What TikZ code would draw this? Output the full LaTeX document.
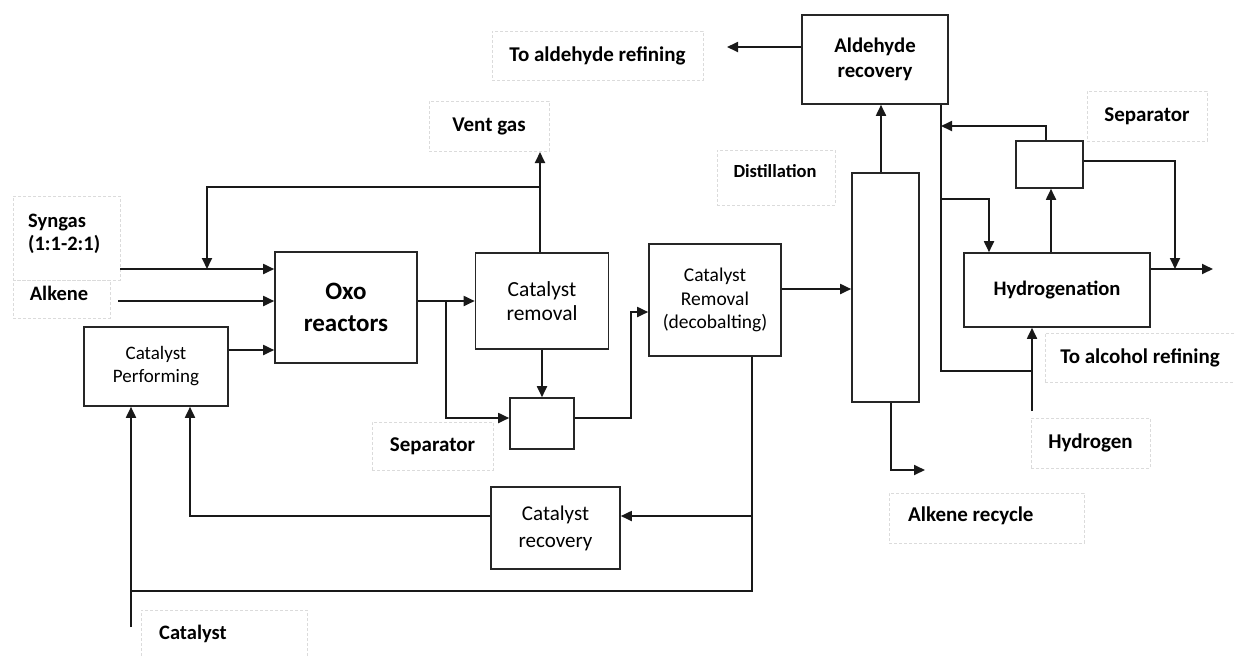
\documentclass[tikz,border=0pt]{standalone}
\usepackage{fontspec}
\setmainfont{Carlito}
\usetikzlibrary{arrows.meta}
\begin{document}
\begin{tikzpicture}[x=1pt,y=-1pt,
  box/.style={draw=black!85,line width=1.6pt,inner sep=0pt,align=center,font=\fontsize{20}{24}\selectfont},
  lbl/.style={draw=black!14,dash pattern=on 3pt off 2pt,line width=0.9pt,inner sep=0pt,align=center,font=\bfseries\fontsize{21}{24}\selectfont},
  txt/.style={inner sep=0pt,font=\bfseries\fontsize{20.5}{23}\selectfont},
  ln/.style={line width=1.8pt,draw=black!90},
  arr/.style={ln,-{Triangle[length=11pt,width=10pt]}},
]
\useasboundingbox (0,0) rectangle (1235,657);

% process boxes
\node[box,minimum width=142pt,minimum height=111pt,font=\bfseries\fontsize{25}{32}\selectfont] (oxo) at (346,307.5) {Oxo\\reactors};
\node[box,minimum width=133pt,minimum height=96pt,font=\fontsize{21.5}{24}\selectfont] (catrem) at (542,301) {Catalyst\\removal};
\node[box,minimum width=132pt,minimum height=112pt,font=\fontsize{19.5}{23.5}\selectfont] (decob) at (715,300) {Catalyst\\Removal\\(decobalting)};
\node[box,minimum width=144pt,minimum height=79pt,font=\fontsize{19}{23}\selectfont] (catperf) at (156,366.5) {Catalyst\\Performing};
\node[box,minimum width=64pt,minimum height=51pt] (sep1) at (542,423.5) {};
\node[box,minimum width=129pt,minimum height=82pt,font=\fontsize{21}{27}\selectfont] (catrec) at (555.5,528) {Catalyst\\recovery};
\node[box,minimum width=67pt,minimum height=229pt] (col) at (885.5,287.5) {};
\node[box,minimum width=146pt,minimum height=89pt,font=\bfseries\fontsize{20.8}{25}\selectfont] (ald) at (875,59.5) {Aldehyde\\recovery};
\node[box,minimum width=67pt,minimum height=47pt] (sep2) at (1049.5,164.5) {};
\node[box,minimum width=186pt,minimum height=74pt,font=\bfseries\fontsize{20.6}{24}\selectfont] (hyd) at (1057,290) {Hydrogenation};

% label boxes
\node[lbl,minimum width=107pt,minimum height=84pt] (lsyn) at (66.5,238) {};
\node[lbl,minimum width=97pt,minimum height=38pt] (lalk) at (61.5,299) {};
\node[txt,anchor=west,align=left] (tsyn) at (28,233.5) {Syngas\\(1:1-2:1)};
\node[txt] (talk) at (59,293) {Alkene};
\node[lbl,minimum width=120pt,minimum height=50pt] (lvent) at (489,126) {Vent gas};
\node[lbl,minimum width=211pt,minimum height=49pt] (ltoald) at (597.5,55.5) {To aldehyde refining};
\node[lbl,minimum width=118pt,minimum height=55pt] (ldist) at (776,177.5) {};
\node[txt,font=\bfseries\fontsize{18.5}{22}\selectfont] (tdist) at (775,171) {Distillation};
\node[lbl,minimum width=120pt,minimum height=50pt] (lsep2) at (1147,116) {Separator};
\node[lbl,minimum width=121pt,minimum height=48pt] (lsep1) at (432.5,446) {Separator};
\node[lbl,minimum width=190pt,minimum height=49pt] (lalc) at (1140,357.5) {To alcohol refining};
\node[lbl,minimum width=119pt,minimum height=50pt] (lhyd) at (1090.5,443) {Hydrogen};
\node[lbl,minimum width=195pt,minimum height=50pt] (lalkrec) at (986.5,518) {};
\node[txt,anchor=west,font=\bfseries\fontsize{21}{24}\selectfont] (talkrec) at (908,516) {Alkene recycle};
\node[lbl,minimum width=166pt,minimum height=60pt] (lcat) at (224,640) {};
\node[txt,anchor=west] (tcat) at (159,634) {Catalyst};

% connectors
\coordinate (synS) at (120,269);
\draw[arr] (synS) -- (synS -| oxo.west);
\coordinate (alkS) at (118,301);
\draw[arr] (alkS) -- (alkS -| oxo.west);
\draw[arr] (catperf.east |- 0,350) -- (oxo.west |- 0,350);
\draw[arr] (oxo.east |- 0,301) -- (catrem.west |- 0,301);
\coordinate (br) at (446,301);
\draw[arr] (br) -- (446,418) -- (sep1.west |- 0,418);
\draw[arr] (catrem.south) -- (sep1.north);
\draw[arr] (sep1.east |- 0,418) -- (631,418) -- (631,312) -- (decob.west |- 0,312);
\coordinate (ventT) at (540,152);
\draw[arr] (catrem.north -| ventT) -- (ventT);
\coordinate (topj) at (540,187);
\draw[arr] (topj) -- (207,187) -- (207,269);
\draw[arr] (decob.east |- 0,289) -- (col.west |- 0,289);
\draw[arr] (col.north -| 881,0) -- (ald.south -| 881,0);
\coordinate (toald) at (727,47);
\draw[arr] (ald.west |- toald) -- (toald);
\coordinate (alkR) at (925,470);
\draw[arr] (col.south -| 891,0) -- (891,470) -- (alkR);
\coordinate (h2) at (1032,411);
\draw[arr] (h2) -- (hyd.south -| h2);
\draw[ln] (ald.south -| 941,0) -- (941,371) -- (h2 |- 0,371);
\draw[arr] (sep2.north -| 1046,0) -- (1046,126) -- (941,126);
\draw[arr] (941,199) -- (989,199) -- (hyd.north -| 989,0);
\draw[arr] (hyd.north -| 1051,0) -- (sep2.south -| 1051,0);
\draw[arr] (sep2.east |- 0,161) -- (1175,161) -- (1175,269);
\coordinate (out) at (1213,269);
\draw[arr] (hyd.east |- out) -- (out);
\draw[ln] (decob.south -| 752,0) -- (752,591) -- (131,591);
\coordinate (catS) at (131,627);
\draw[arr] (catS) -- (catperf.south -| catS);
\draw[arr] (752,516) -- (catrec.east |- 0,516);
\draw[arr] (catrec.west |- 0,516) -- (190,516) -- (catperf.south -| 190,0);
\end{tikzpicture}
\end{document}
